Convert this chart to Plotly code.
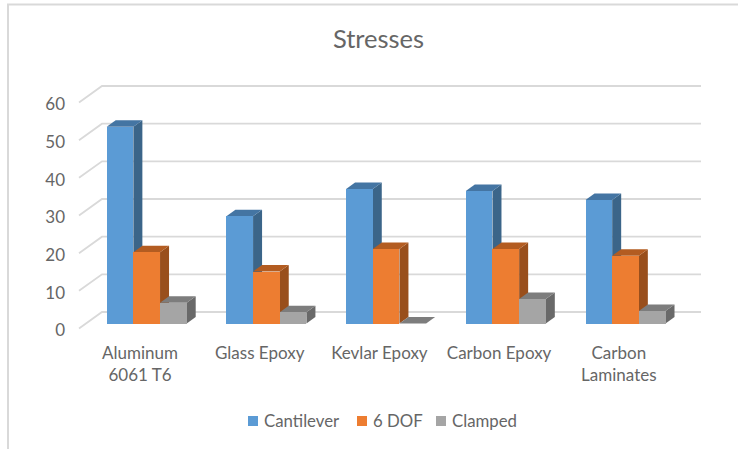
import plotly.graph_objects as go

# Chart data
categories = ["Aluminum<br>6061 T6", "Glass Epoxy", "Kevlar Epoxy", "Carbon Epoxy", "Carbon<br>Laminates"]
cantilever = [52.2, 28.5, 35.7, 35.2, 32.8]
six_dof = [18.9, 13.8, 19.8, 19.8, 18.0]
clamped = [5.5, 3.0, 0.0, 6.5, 3.3]
y_ticks = [0, 10, 20, 30, 40, 50, 60]

front_colors = ["#5B9BD5", "#ED7D31", "#A5A5A5"]
side_colors = ["#3B6589", "#994F1C", "#696969"]
top_colors = ["#4475A3", "#B35C21", "#7D7D7D"]
text_color = "#666666"
grid_color = "#D9D9D9"
label_font = "Lato"

W, H = 738, 449
PLOT_L, PLOT_R, PLOT_T, PLOT_B = 66, 710, 80, 336

# Pixel scale of the two axes
X_UNIT, X_ORIGIN = 119.7, 140.0
Y_UNIT, Y_ORIGIN = 3.767, 328.5
x_range = [(PLOT_L - X_ORIGIN) / X_UNIT, (PLOT_R - X_ORIGIN) / X_UNIT]
y_range = [(Y_ORIGIN - PLOT_B) / Y_UNIT, (Y_ORIGIN - PLOT_T) / Y_UNIT]

# Oblique projection offsets, in axis units
bar_width = 26.67 / X_UNIT
bar_base = 5.0 / Y_UNIT
bar_dx, bar_dy = 9.0 / X_UNIT, 6.5 / Y_UNIT
wall_dx, wall_dy = 23.0 / X_UNIT, 16.5 / Y_UNIT
wall_left = (79 - X_ORIGIN) / X_UNIT
wall_right = (701 - X_ORIGIN) / X_UNIT
first_offset = (106.7 - X_ORIGIN) / X_UNIT

series = [("Cantilever", cantilever), ("6 DOF", six_dof), ("Clamped", clamped)]
xs = list(range(len(categories)))

# Legend layout: left edge of each swatch, in page pixels
legend_x = [248, 357, 436]
legend_y = 421
swatch = 10


def paper_x(px):
    return (px - PLOT_L) / (PLOT_R - PLOT_L)


def paper_y(px):
    return (PLOT_B - px) / (PLOT_B - PLOT_T)


def poly(points, color):
    path = "M" + " L".join(f"{x:.4f},{y:.4f}" for x, y in points) + " Z"
    return dict(type="path", path=path, xref="x", yref="y", layer="below",
                fillcolor=color, line=dict(width=0))


shapes = []
annotations = []

# Chart frame along the top and left edges
for x0, y0, x1, y1 in [(7, 4.5, W, 4.5), (8, 4, 8, H)]:
    shapes.append(dict(type="line", xref="paper", yref="paper",
                       x0=paper_x(x0), x1=paper_x(x1), y0=paper_y(y0), y1=paper_y(y1),
                       line=dict(color=grid_color, width=2)))

# Back wall and side wall grid lines
for t in y_ticks:
    shapes.append(dict(type="path", xref="x", yref="y", layer="below",
                       path=f"M{wall_left:.4f},{t} L{wall_left + wall_dx:.4f},{t + wall_dy:.4f} L{wall_right:.4f},{t + wall_dy:.4f}",
                       line=dict(color=grid_color, width=1.8)))

# Top and side faces of each bar, sitting under the front faces
for s, (_, values) in enumerate(series):
    off = first_offset + s * bar_width
    for i, v in zip(xs, values):
        x0 = i + off
        x1 = x0 + bar_width
        y0 = bar_base
        y1 = bar_base + v
        shapes.append(poly([(x1, y0), (x1 + bar_dx, y0 + bar_dy), (x1 + bar_dx, y1 + bar_dy), (x1, y1)], side_colors[s]))
        shapes.append(poly([(x0, y1), (x0 + bar_dx, y1 + bar_dy), (x1 + bar_dx, y1 + bar_dy), (x1, y1)], top_colors[s]))

# Compact legend with the swatch close to its label
for s, (name, _) in enumerate(series):
    lx = legend_x[s]
    shapes.append(dict(type="rect", xref="paper", yref="paper",
                       x0=paper_x(lx), x1=paper_x(lx + swatch),
                       y0=paper_y(legend_y - swatch / 2), y1=paper_y(legend_y + swatch / 2),
                       fillcolor=front_colors[s], line=dict(width=0)))
    annotations.append(dict(text=name, xref="paper", yref="paper", x=paper_x(lx + swatch + 4),
                            y=paper_y(legend_y - 0.5), xanchor="left", yanchor="middle", showarrow=False,
                            font=dict(family=label_font, size=16.8, color=text_color)))

fig = go.Figure()
for s, (name, values) in enumerate(series):
    fig.add_trace(go.Bar(name=name, x=xs, y=values, base=bar_base, width=bar_width,
                         offset=first_offset + s * bar_width, showlegend=False,
                         marker=dict(color=front_colors[s], line=dict(width=0))))

fig.update_layout(
    width=W, height=H, autosize=False,
    margin=dict(l=PLOT_L, r=W - PLOT_R, t=PLOT_T, b=H - PLOT_B, pad=0),
    paper_bgcolor="white", plot_bgcolor="white",
    barmode="overlay", shapes=shapes, annotations=annotations, bargap=0,
    title=dict(text="Stresses", x=378.5 / W, xanchor="center", y=1 - 39 / H, yanchor="middle",
               font=dict(family=label_font, size=25.5, color=text_color)),
    xaxis=dict(range=x_range, tickmode="array", tickvals=xs, ticktext=categories,
               showgrid=False, zeroline=False, showline=False, ticks="", ticklabelstandoff=5,
               tickangle=0, tickfont=dict(family=label_font, size=17, color=text_color)),
    yaxis=dict(range=y_range, tickmode="array", tickvals=y_ticks, showgrid=False, zeroline=False,
               showline=False, ticks="", ticklabelshift=2,
               tickfont=dict(family=label_font, size=17, color=text_color)),
)

fig.write_html("out.html")
